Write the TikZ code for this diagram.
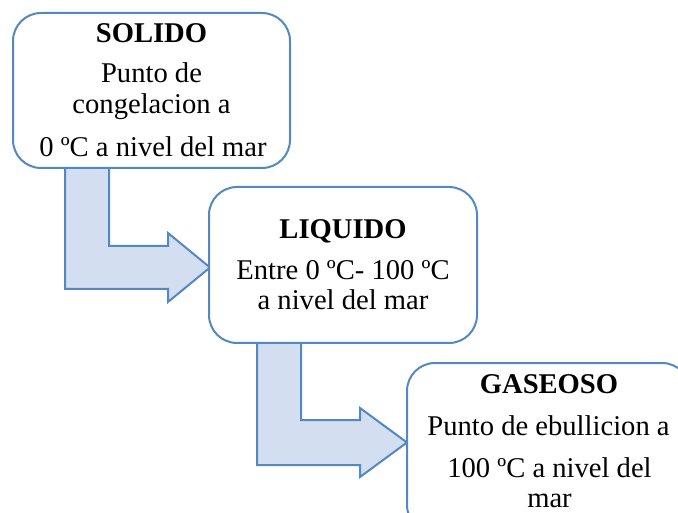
\documentclass[tikz,border=0pt]{standalone}
\usepackage{fontspec}
\setmainfont{Liberation Serif}
\definecolor{edgeblue}{HTML}{5288C4}
\definecolor{fillblue}{HTML}{D3DEF0}
\tikzset{
  statebox/.style={draw=edgeblue, line width=2pt, fill=white, rounded corners=28pt, inner sep=0pt},
  blockarrow/.style={draw=edgeblue, line width=2pt, fill=fillblue, line join=miter},
  txt/.style={anchor=base, inner sep=0pt, font=\fontsize{28.6}{34}\selectfont},
  hdr/.style={txt, font=\fontsize{28.6}{34}\selectfont\bfseries},
}
\begin{document}
\begin{tikzpicture}[x=1pt, y=-1pt]
\useasboundingbox (0,0) rectangle (678,513);
\clip (0,0) rectangle (678,513);
% block arrows
\draw[blockarrow] (65,160) -- (109,160) -- (109,246) -- (168,246) -- (168,233) -- (210,267.5)
  -- (168,302) -- (168,289) -- (65,289) -- cycle;
\draw[blockarrow] (257,335) -- (301,335) -- (301,420) -- (360,420) -- (360,408) -- (407,442.5)
  -- (360,477) -- (360,465) -- (257,465) -- cycle;
% boxes
\node[statebox, minimum width=277pt, minimum height=155pt] (solido) at (151.5,90.5) {};
\node[statebox, minimum width=268pt, minimum height=156pt] (liquido) at (343,265) {};
\node[statebox, minimum width=283pt, minimum height=170pt] (gaseoso) at (548.5,448) {};
% texts
\node[hdr] (t1a) at (151.5,43) {SOLIDO};
\node[txt] (t1b) at (151.5,83) {Punto de};
\node[txt] (t1c) at (151.5,114) {congelacion a};
\node[txt] (t1d) at (153,157) {0 ºC a nivel del mar};
\node[hdr] (t2a) at (343,239) {LIQUIDO};
\node[txt] (t2b) at (343,280) {Entre 0 ºC- 100 ºC};
\node[txt] (t2c) at (343,310) {a nivel del mar};
\node[hdr] (t3a) at (549,393) {GASEOSO};
\node[txt] (t3b) at (548.5,435) {Punto de ebullicion a};
\node[txt] (t3c) at (549.5,477) {100 ºC a nivel del};
\node[txt] (t3d) at (549.5,507) {mar};
\end{tikzpicture}
\end{document}
